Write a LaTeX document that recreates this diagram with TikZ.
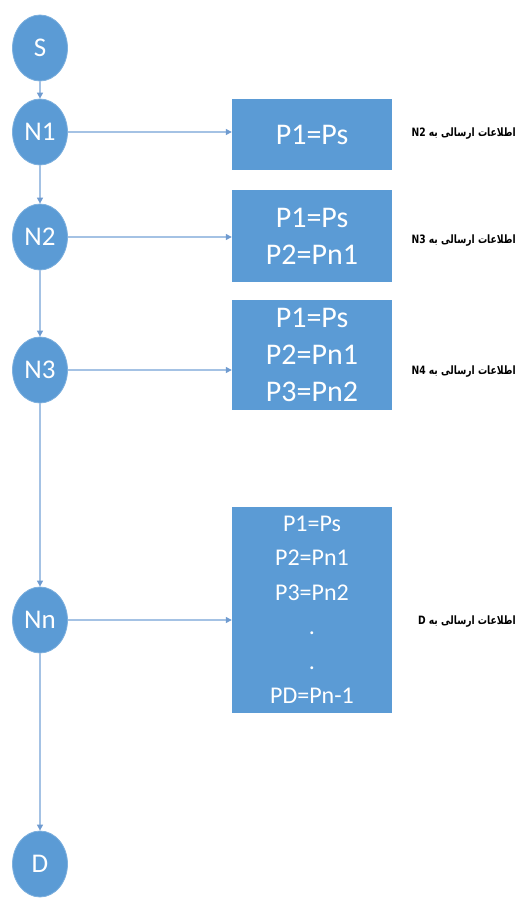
\documentclass[tikz,border=0pt]{standalone}
\usepackage{fontspec}
\usepackage{graphicx}
\setmainfont{Carlito}
\newfontfamily\arabicfont[Script=Arabic]{DejaVu Sans}
\TeXXeTstate=1
\usetikzlibrary{arrows.meta,shapes.geometric}
\definecolor{nodeblue}{HTML}{5B9BD5}
\definecolor{rimblue}{HTML}{7DB0DE}
\definecolor{linkblue}{HTML}{A4C2E4}
\definecolor{tipblue}{HTML}{6F9BD0}
\newcommand{\sentto}[1]{\scalebox{0.8}[1]{\beginR اطلاعات ارسالی به \beginL #1\endL\endR}}
\tikzset{
  circnode/.style={ellipse, fill=nodeblue, draw=rimblue, line width=0.8pt,
    minimum width=55pt, minimum height=66pt, inner sep=0pt, text=white,
    font=\fontsize{27}{27}\selectfont},
  infobox/.style={rectangle, fill=nodeblue, minimum width=160pt, inner sep=0pt,
    text=white, align=center},
  bigtext/.style={font=\fontsize{30}{37}\selectfont},
  smalltext/.style={font=\fontsize{24}{34.5}\selectfont},
  link/.style={draw=linkblue, line width=1.2pt,
    -{Triangle[length=6pt,width=6pt,color=tipblue]}},
  sentlabel/.style={anchor=east, inner sep=0pt, text=black,
    font=\arabicfont\bfseries\fontsize{11.5}{13}\selectfont}
}
\begin{document}
\begin{tikzpicture}[x=1pt,y=-1pt]
\useasboundingbox (0,0) rectangle (530,899);

% chain of nodes
\node[circnode] (S)  at (40,48)  {S};
\node[circnode] (N1) at (40,132) {N1};
\node[circnode] (N2) at (40,237) {N2};
\node[circnode] (N3) at (40,370) {N3};
\node[circnode] (Nn) at (40,620) {Nn};
\node[circnode] (D)  at (40,864) {D};

% information boxes
\node[infobox, bigtext, minimum height=71pt] (B1) at (312,134.5) {P1=Ps};
\node[infobox, bigtext, minimum height=92pt] (B2) at (312,236) {P1=Ps\\P2=Pn1};
\node[infobox, bigtext, minimum height=110pt] (B3) at (312,355) {P1=Ps\\P2=Pn1\\P3=Pn2};
\node[infobox, smalltext, minimum height=206pt] (B4) at (312,610)
  {P1=Ps\\P2=Pn1\\P3=Pn2\\.\\.\\PD=Pn-1};

% vertical links
\draw[link] (S) -- (N1);
\draw[link] (N1) -- (N2);
\draw[link] (N2) -- (N3);
\draw[link] (N3) -- (Nn);
\draw[link] (Nn) -- (D);

% horizontal links
\draw[link] (N1.east) -- (N1.east -| B1.west);
\draw[link] (N2.east) -- (N2.east -| B2.west);
\draw[link] (N3.east) -- (N3.east -| B3.west);
\draw[link] (Nn.east) -- (Nn.east -| B4.west);

% labels
\node[sentlabel] (L1) at (516,134) {\sentto{N2}};
\node[sentlabel] (L2) at (516,241) {\sentto{N3}};
\node[sentlabel] (L3) at (516,372) {\sentto{N4}};
\node[sentlabel] (L4) at (516,622) {\sentto{D}};
\end{tikzpicture}
\end{document}
